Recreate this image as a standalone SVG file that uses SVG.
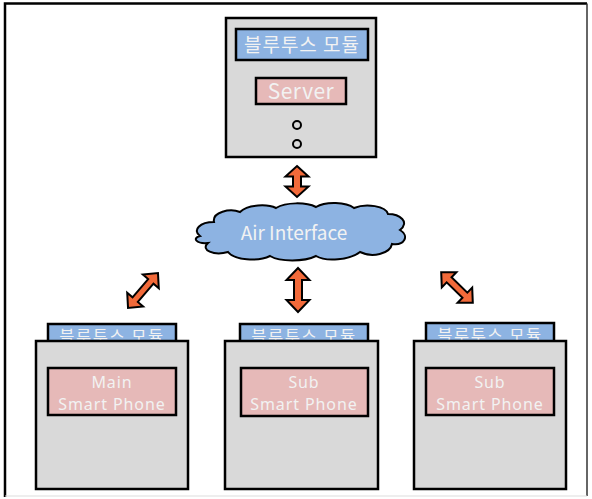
<svg xmlns="http://www.w3.org/2000/svg" width="592" height="499" viewBox="0 0 592 499">
<style>
.box{fill:#d9d9d9;stroke:#000;stroke-width:2.5}
.blue{fill:#8db3e2;stroke:#000;stroke-width:2.5}
.pink{fill:#e6b9b8;stroke:#000;stroke-width:2.5}
.t{font-family:"Noto Sans CJK KR","Noto Sans",sans-serif;fill:#f2f2f2;text-anchor:middle}
.tab{font-size:16.5px;letter-spacing:1.5px}
.ph{font-family:"Noto Sans",sans-serif;font-size:16px;letter-spacing:0.9px}
.arr{fill:#f26a3a;stroke:#000;stroke-width:2;stroke-linejoin:miter}
</style>
<defs>
<clipPath id="tabclip1"><rect x="48" y="324" width="128" height="17"/></clipPath>
<clipPath id="tabclip2"><rect x="240" y="324" width="128" height="17"/></clipPath>
<clipPath id="tabclip3"><rect x="426" y="323" width="128" height="18"/></clipPath>
</defs>
<rect x="0" y="0" width="592" height="499" fill="#fff"/>
<g id="frame" fill="none">
<path d="M5,497 L5,3.5 L587,3.5" stroke="#000" stroke-width="2.5"/>
<path d="M587,3.5 L587,496" stroke="#333" stroke-width="1.5"/>
<path d="M5,496 L587,496" stroke="#ddd" stroke-width="1"/>
</g>
<g id="server">
<rect class="box" x="226" y="18" width="150" height="139"/>
<rect class="blue" x="236" y="29" width="132" height="31"/>
<text class="t" x="302" y="52" font-size="19" letter-spacing="1">블루투스 모듈</text>
<rect class="pink" x="256" y="78" width="90" height="26"/>
<text class="t" x="301" y="99" font-size="21" letter-spacing="0.5">Server</text>
<circle cx="297" cy="125" r="4" fill="none" stroke="#000" stroke-width="2"/>
<circle cx="297" cy="144" r="4" fill="none" stroke="#000" stroke-width="2"/>
</g>
<g id="air">
<path d="M200,236 C192,230 200,222 214,222 C212,212 230,208 240,212 C248,204 268,204 276,208 C286,202 306,202 316,207 C326,201 346,202 354,208 C366,203 386,206 388,214 C400,214 410,222 400,230 C410,236 404,246 392,244 C390,254 372,258 360,252 C350,260 326,262 316,256 C304,262 280,262 270,256 C258,262 234,260 228,252 C214,256 200,250 208,243 C196,244 192,238 200,236 Z" fill="#8db3e2" stroke="#000" stroke-width="2"/>
<text class="t" x="294" y="240" font-size="19">Air Interface</text>
</g>
<g id="phone1">
<rect class="blue" x="48" y="324" width="128" height="20"/>
<text class="t tab" x="112" y="343" clip-path="url(#tabclip1)">블루투스 모듈</text>
<rect class="box" x="36" y="341" width="152" height="148"/>
<rect class="pink" x="48" y="368" width="128" height="47"/>
<text class="t ph" x="112" y="388">Main</text>
<text class="t ph" x="112" y="410">Smart Phone</text>
</g>
<g id="phone2">
<rect class="blue" x="240" y="324" width="128" height="20"/>
<text class="t tab" x="304" y="343" clip-path="url(#tabclip2)">블루투스 모듈</text>
<rect class="box" x="225" y="341" width="153" height="148"/>
<rect class="pink" x="241" y="368" width="127" height="48"/>
<text class="t ph" x="304" y="388">Sub</text>
<text class="t ph" x="304" y="410">Smart Phone</text>
</g>
<g id="phone3">
<rect class="blue" x="426" y="323" width="128" height="21"/>
<text class="t tab" x="490" y="342" clip-path="url(#tabclip3)">블루투스 모듈</text>
<rect class="box" x="414" y="341" width="152" height="148"/>
<rect class="pink" x="426" y="368" width="128" height="47"/>
<text class="t ph" x="490" y="388">Sub</text>
<text class="t ph" x="490" y="410">Smart Phone</text>
</g>
<g id="connectors">
<path class="arr" transform="translate(297,181.5)" d="M0,-15.5 L11.5,-5 L4,-5 L4,5 L11.5,5 L0,15.5 L-11.5,5 L-4,5 L-4,-5 L-11.5,-5 Z"/>
<path class="arr" transform="translate(298,290)" d="M0,-22 L11.5,-10 L4,-10 L4,10 L11.5,10 L0,22 L-11.5,10 L-4,10 L-4,-10 L-11.5,-10 Z"/>
<path class="arr" transform="translate(143,290.5) rotate(40.6)" d="M0,-23 L10.5,-12 L3.5,-12 L3.5,12 L10.5,12 L0,23 L-10.5,12 L-3.5,12 L-3.5,-12 L-10.5,-12 Z"/>
<path class="arr" transform="translate(457,287.5) rotate(-45.9)" d="M0,-22 L10.5,-11 L3.5,-11 L3.5,11 L10.5,11 L0,22 L-10.5,11 L-3.5,11 L-3.5,-11 L-10.5,-11 Z"/>
</g>
</svg>
